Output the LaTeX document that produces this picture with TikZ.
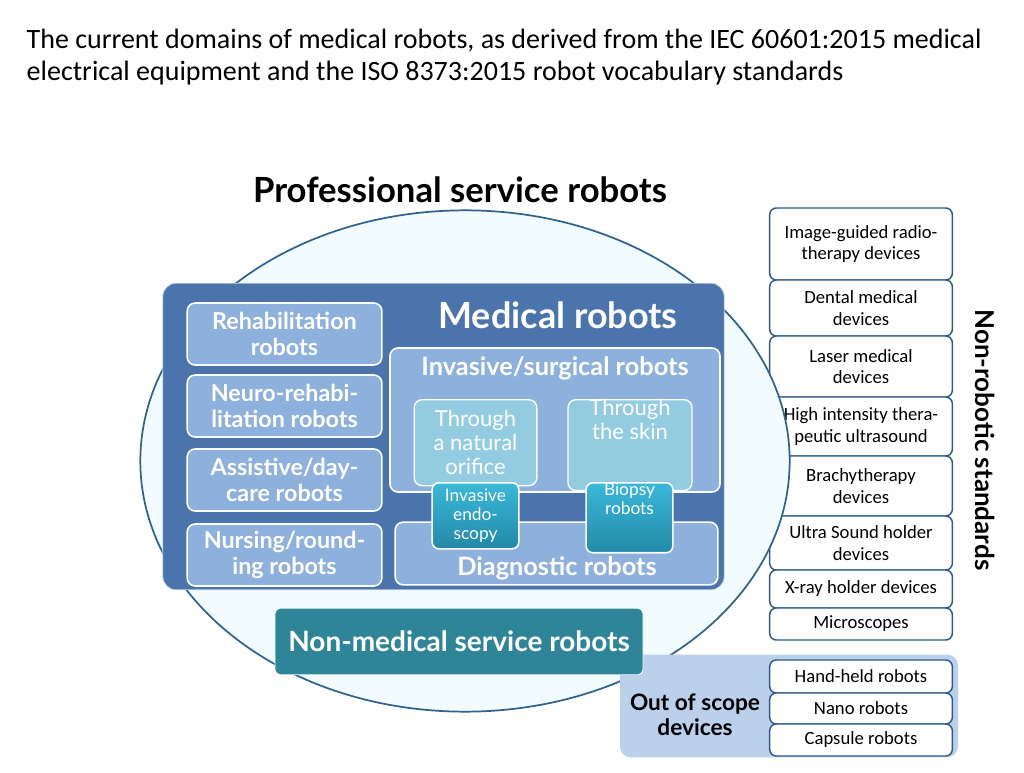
\documentclass[tikz,border=0pt]{standalone}
\usepackage{fontspec}
\usetikzlibrary{shapes.geometric}
\setmainfont{Lato}
\newfontfamily\carl{Carlito}
\begin{document}
\begin{tikzpicture}[x=0.75pt,y=-0.75pt,
 lb/.style={draw=white,line width=1.2pt,rounded corners=6pt,fill=lblue,text=white,font=\bfseries\fontsize{17.5}{19}\selectfont,align=center,inner sep=0pt},
 tb/.style={draw=white,line width=1pt,rounded corners=6pt,fill=tblue,text=white,font=\fontsize{16.5}{18}\selectfont,align=center,inner sep=0pt},
 db/.style={draw=white,line width=1.2pt,rounded corners=5pt,top color=cyanA,bottom color=cyanB,text=white,font=\fontsize{13}{14.5}\selectfont,align=center,inner sep=0pt},
 rb/.style={draw=dblue,line width=1.1pt,rounded corners=5pt,fill=white,font=\carl\fontsize{14}{16}\selectfont,align=center,inner sep=0pt}]
\definecolor{lblue}{HTML}{8EB0DC}
\definecolor{mblue}{HTML}{4A74AB}
\definecolor{tblue}{HTML}{93CCE0}
\definecolor{cyanA}{HTML}{3BB8D9}
\definecolor{cyanB}{HTML}{2389A8}
\definecolor{dblue}{HTML}{2F5A8A}
\definecolor{teal}{HTML}{2E8597}
\useasboundingbox (0,0) rectangle (1024,773);
\node[anchor=north west,align=left,font=\carl\fontsize{21}{24.5}\selectfont] (title) at (22,24) {The current domains of medical robots, as derived from the IEC 60601:2015 medical\\electrical equipment and the ISO 8373:2015 robot vocabulary standards};
\node[font=\bfseries\fontsize{26}{28}\selectfont] (prof) at (460,190) {Professional service robots};
% right column
\node[rb,minimum width=137pt,minimum height=54pt] (r1) at (861,244) {Image-guided radio-\\therapy devices};
\node[rb,minimum width=137pt,minimum height=42pt] (r2) at (861,308) {Dental medical\\devices};
\node[rb,minimum width=137pt,minimum height=45.75pt] (r3) at (861,366.5) {Laser medical\\devices};
\node[rb,minimum width=137pt,minimum height=44.25pt] (r4) at (861,426.5) {High intensity thera-\\peutic ultrasound};
\node[rb,minimum width=137pt,minimum height=45pt] (r5) at (861,486) {Brachytherapy\\devices};
\node[rb,minimum width=137pt,minimum height=40.5pt] (r6) at (861,543) {Ultra Sound holder\\devices};
\node[rb,minimum width=137pt,minimum height=28.5pt] (r7) at (861,589) {X-ray holder devices};
\node[rb,minimum width=137pt,minimum height=24pt] (r8) at (861,624) {Microscopes};
% ellipse
\node[ellipse,draw=dblue!80!teal,line width=1.3pt,fill=cyan!5!white,minimum width=487pt,minimum height=376pt,inner sep=0pt] (ell) at (465,461) {};
% out of scope
\node[fill=lblue!60!white,rounded corners=8pt,minimum width=253.5pt,minimum height=77pt,inner sep=0pt] (oos) at (789,706) {};
\node[font=\bfseries\fontsize{17}{19}\selectfont,align=center] (oost) at (695,715) {Out of scope\\devices};
\node[rb,minimum width=137pt,minimum height=24.75pt] (h1) at (861,676.5) {Hand-held robots};
\node[rb,minimum width=137pt,minimum height=23.25pt] (h2) at (861,708.5) {Nano robots};
\node[rb,minimum width=137pt,minimum height=24pt] (h3) at (861,740) {Capsule robots};
\node[rotate=-90,font=\bfseries\fontsize{19.5}{21}\selectfont] (nrs) at (985,440) {Non-robotic standards};
% medical robots
\node[fill=mblue,draw=white!70!mblue,line width=0.6pt,rounded corners=10pt,minimum width=421pt,minimum height=230pt,inner sep=0pt] (med) at (443.5,436.5) {};
\node[text=white,font=\bfseries\fontsize{27}{29}\selectfont] (medt) at (558,315) {Medical robots};
\node[lb,minimum width=146pt,minimum height=46.5pt] (l1) at (284.5,334) {Rehabilitation\\robots};
\node[lb,minimum width=146pt,minimum height=46.5pt] (l2) at (284.5,406) {Neuro-rehabi-\\litation robots};
\node[lb,minimum width=146pt,minimum height=46.5pt] (l3) at (284.5,480) {Assistive/day-\\care robots};
\node[lb,minimum width=146pt,minimum height=46.5pt] (l4) at (284.5,555) {Nursing/round-\\ing robots};
\node[lb,minimum width=247.5pt,minimum height=108pt] (inv) at (555,420) {};
\node[text=white,font=\bfseries\fontsize{19}{21}\selectfont] (invt) at (555,368) {Invasive/surgical robots};
\node[tb,minimum width=92pt,minimum height=64.5pt,anchor=north] (t1) at (475.5,399) {Through\\a natural\\orifice};
\node[tb,minimum width=93pt,minimum height=64.5pt,anchor=north] (t2) at (630,399) {Through\\the skin\\[20pt]};
\node[lb,minimum width=242pt,minimum height=47pt] (dia) at (556.5,553.5) {};
\node[text=white,font=\bfseries\fontsize{19}{21}\selectfont] (diat) at (557,568) {Diagnostic robots};
\node[db,minimum width=65pt,minimum height=49.5pt,anchor=north] (d1) at (475.5,482) {Invasive\\endo-\\scopy};
\node[db,minimum width=65pt,minimum height=49.5pt,anchor=north] (d2) at (629.5,482) {Biopsy\\robots\\[14pt]};
\node[fill=teal,draw=white,line width=0.6pt,rounded corners=4pt,minimum width=276pt,minimum height=50pt,text=white,font=\bfseries\fontsize{21}{23}\selectfont] (nm) at (459,641.5) {Non-medical service robots};
\end{tikzpicture}
\end{document}
